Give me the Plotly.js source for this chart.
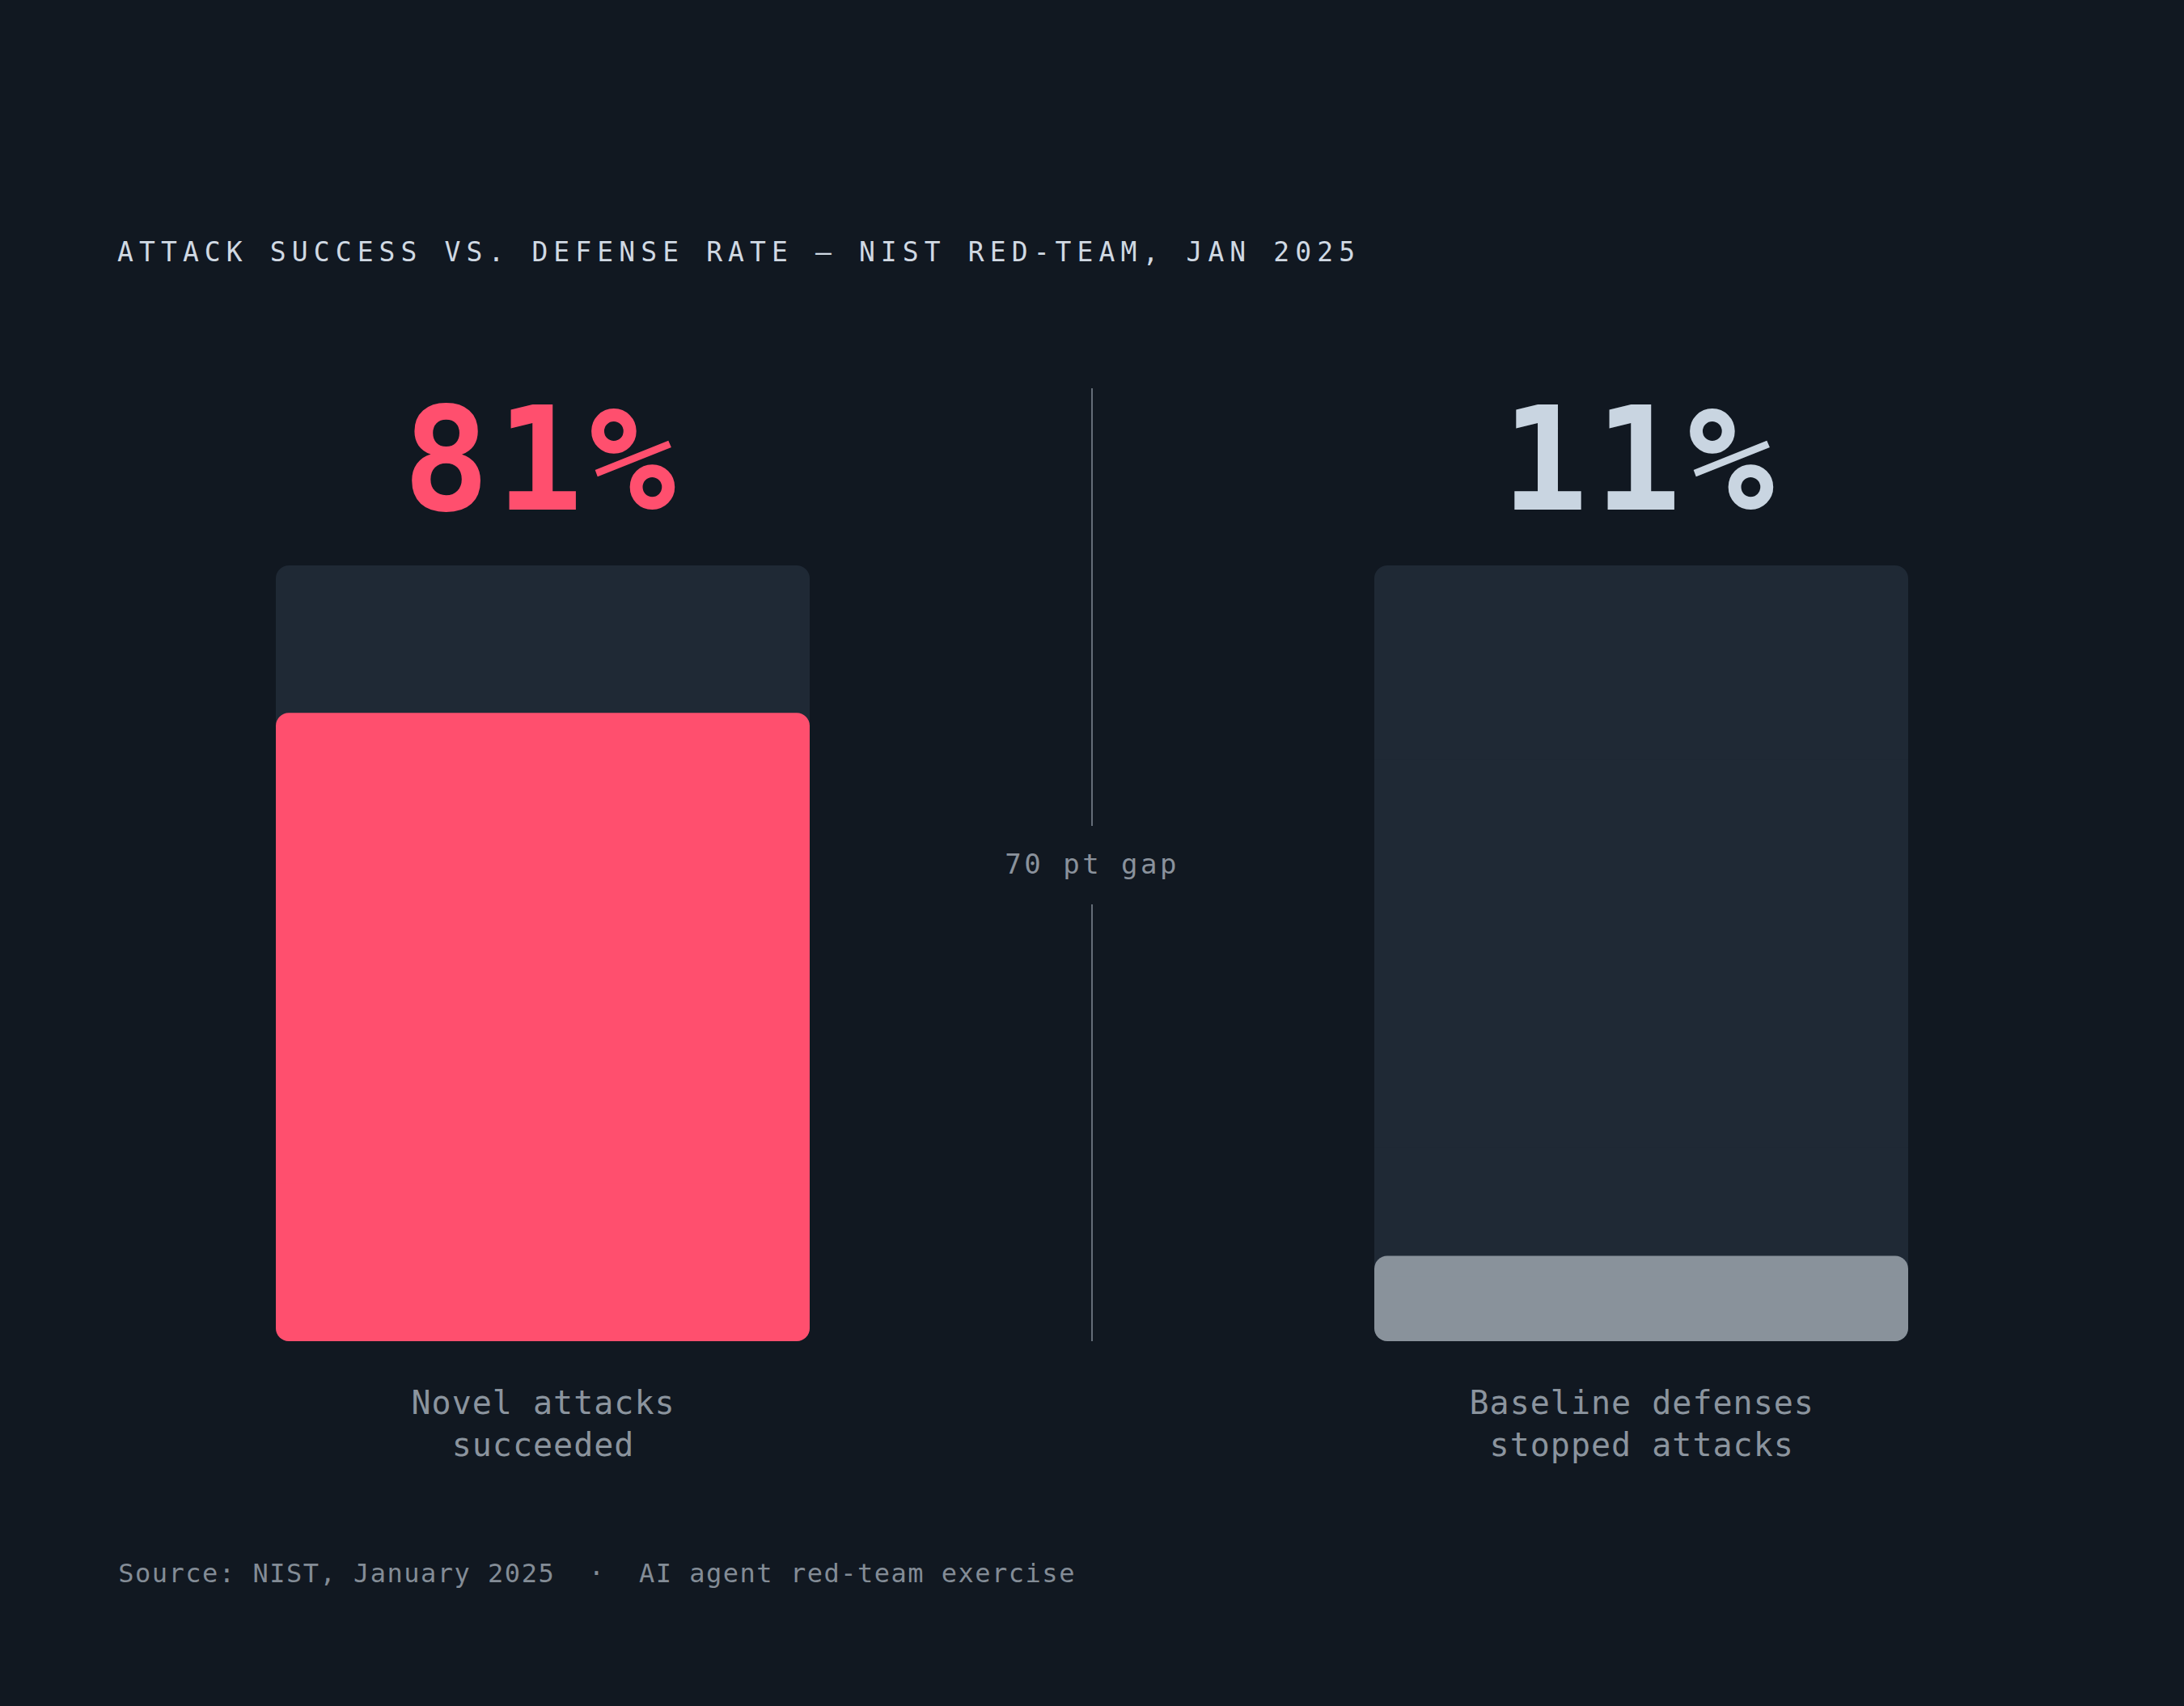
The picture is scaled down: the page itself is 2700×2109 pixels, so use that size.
<!DOCTYPE html>
<html>
<head>
<meta charset="utf-8">
<script src="https://cdn.plot.ly/plotly-3.0.1.min.js"></script>
<style>
  html, body { margin: 0; padding: 0; background: #111821; }
  #chart { width: 2700px; height: 2109px; }
  .gtitle { letter-spacing: 7.1px; }
  g.annotation[data-index="0"] text, g.annotation[data-index="1"] text { letter-spacing: 8px; }
  g.annotation[data-index="2"] text, g.annotation[data-index="3"] text { letter-spacing: 1px; }
  g.annotation[data-index="4"] text { letter-spacing: 3.5px; }
  g.annotation[data-index="5"] text { letter-spacing: 1.5px; }
</style>
</head>
<body>
<div id="chart"></div>
<script>
// ---- data ----
const categories = ["Novel attacks<br>succeeded", "Baseline defenses<br>stopped attacks"];
const values = [81, 11];
const scaleMax = 100;
const gapLabel = "70 pt gap";
const titleText = "ATTACK SUCCESS VS. DEFENSE RATE \u2014 NIST RED-TEAM, JAN 2025";
const sourceText = "Source: NIST, January 2025\u00a0\u00a0\u00b7\u00a0\u00a0AI agent red-team exercise";

// ---- styles ----
const barColors = ["#ff4f6e", "#89929b"];
const numberColors = ["#ff4f6e", "#c9d5e1"];
const trackColor = "#1f2935";
const bg = "#111821";
const mono = "DejaVu Sans Mono, Liberation Mono, monospace";
const pxPerUnit = 1358;
const barWidth = 660 / pxPerUnit;
const radius = 16;
const sourceSpacing = 1.5;

const xs = categories.map((_, i) => i);

// Each bar is drawn as two overlapping rounded halves plus a plain middle piece,
// so both ends get rounded corners without seams.
function roundedBar(vals, color) {
  const common = { type: "bar", x: xs, width: barWidth, hoverinfo: "skip", showlegend: false };
  const lower = Object.assign({}, common, {
    base: vals.map(v => v * 0.6), y: vals.map(v => -v * 0.6),
    marker: { color: color, cornerradius: radius, line: { width: 0 } }
  });
  const upper = Object.assign({}, common, {
    base: vals.map(v => v * 0.4), y: vals.map(v => v * 0.6),
    marker: { color: color, cornerradius: radius, line: { width: 0 } }
  });
  const middle = Object.assign({}, common, {
    base: vals.map(v => v * 0.25), y: vals.map(v => v * 0.5),
    marker: { color: color, line: { width: 0 } }
  });
  return [lower, upper, middle];
}

const traces = [
  ...roundedBar(values.map(() => scaleMax), trackColor),
  ...roundedBar(values, barColors)
];

const annotations = [];
values.forEach((v, i) => {
  annotations.push({
    x: i, xref: "x", y: 1 - 569 / 2109, yref: "paper",
    text: v + "%", showarrow: false, xanchor: "center", yanchor: "middle",
    font: { family: mono, size: 178, color: numberColors[i], weight: 700 }
  });
});
categories.forEach((c, i) => {
  annotations.push({
    x: i, xref: "x", y: 1 - 1760 / 2109, yref: "paper",
    text: c, showarrow: false, xanchor: "center", yanchor: "middle", align: "center",
    font: { family: mono, size: 40, color: "#8b949e" }
  });
});
annotations.push({
  x: 0.5, xref: "x", y: 1 - 1068 / 2109, yref: "paper",
  text: gapLabel, showarrow: false, xanchor: "center", yanchor: "middle",
  font: { family: mono, size: 34, color: "#8a929c" }
});
annotations.push({
  x: 144 / 2700, xref: "paper", y: 1 - 1945 / 2109, yref: "paper",
  text: sourceText, showarrow: false, xanchor: "left", yanchor: "middle",
  xshift: sourceText.length * sourceSpacing / 2,
  font: { family: mono, size: 32, color: "#838c96" }
});

const lineStyle = { color: "#646d78", width: 2 };
const shapes = [
  { type: "line", xref: "x", yref: "paper", x0: 0.5, x1: 0.5, y0: 1 - 480 / 2109, y1: 1 - 1021 / 2109, line: lineStyle },
  { type: "line", xref: "x", yref: "paper", x0: 0.5, x1: 0.5, y0: 1 - 1118 / 2109, y1: 1 - 1658 / 2109, line: lineStyle }
];

const layout = {
  width: 2700, height: 2109,
  margin: { l: 0, r: 0, t: 0, b: 0, pad: 0 },
  paper_bgcolor: bg, plot_bgcolor: bg,
  barmode: "overlay",
  showlegend: false,
  title: {
    text: titleText, x: 145 / 2700, xref: "paper", xanchor: "left",
    y: 1 - 311 / 2109, yref: "container", yanchor: "middle",
    font: { family: mono, size: 33, color: "#d0d9e3" }
  },
  xaxis: { range: [-671 / pxPerUnit, 2029 / pxPerUnit], visible: false, fixedrange: true },
  yaxis: { range: [-47.03, 172.89], visible: false, fixedrange: true },
  annotations: annotations,
  shapes: shapes,
  hovermode: false,
  dragmode: false
};

Plotly.newPlot("chart", traces, layout, { displayModeBar: false, responsive: false });
</script>
</body>
</html>
